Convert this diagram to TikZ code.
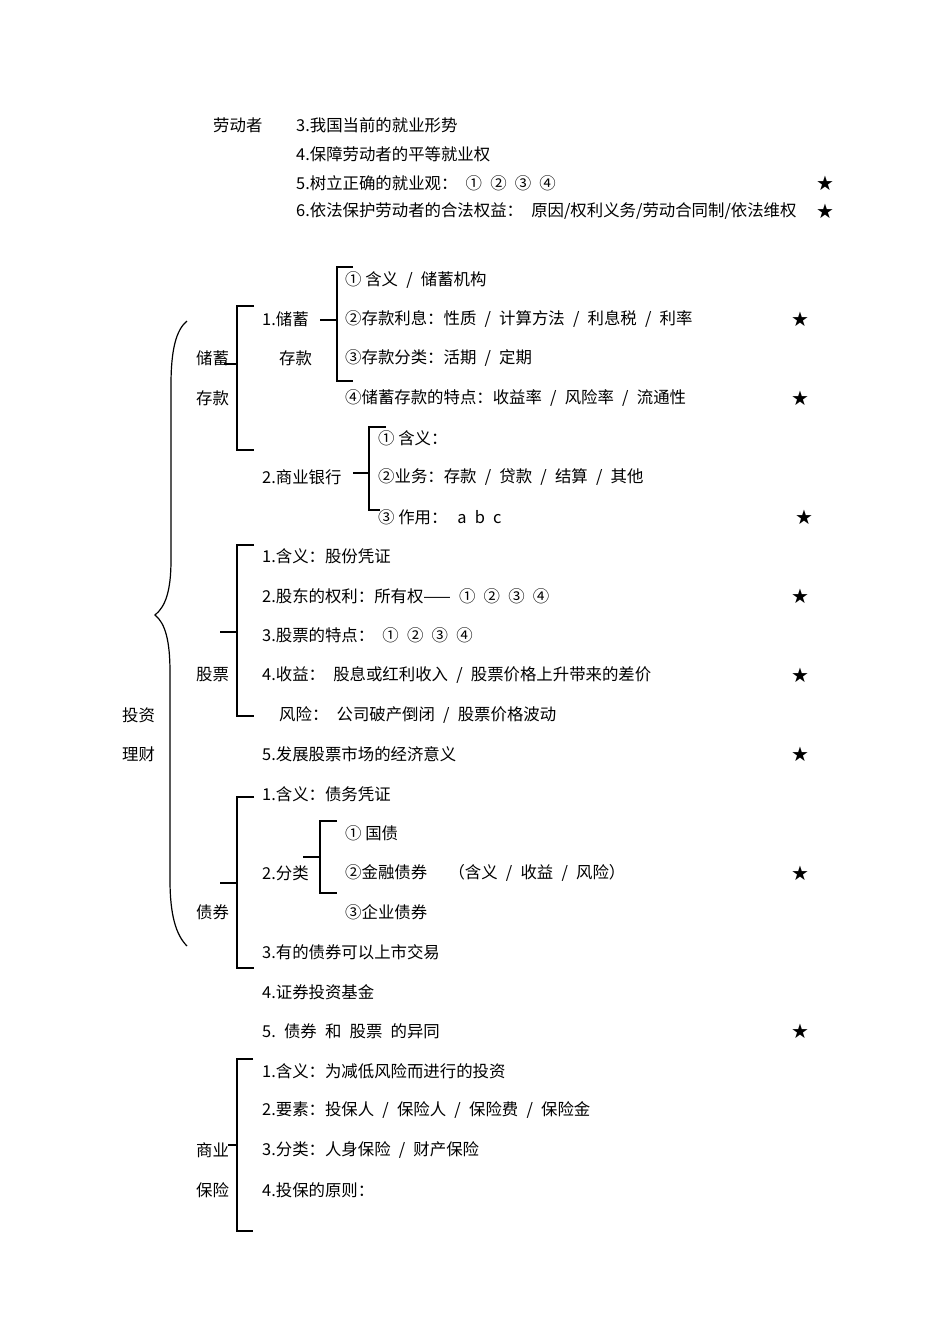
\documentclass[tikz,border=0pt]{standalone}
\usepackage{fontspec}
\newfontfamily\cjk{Noto Sans CJK SC}
\newfontfamily\sym{DejaVu Sans}
\usetikzlibrary{positioning}
\newcommand\slsep{\hspace{0.5em}/\hspace{0.5em}}
\newcommand\gap{\hspace{0.5em}}

\tikzset{
  txt/.style={anchor=west,inner sep=0pt,font=\cjk\fontsize{16.4}{18}\selectfont},
  starmark/.style={inner sep=0pt,font=\sym\fontsize{20}{22}\selectfont},
  brk/.style={line width=1.4pt},
}

\begin{document}
\begin{tikzpicture}[x=1pt,y={(0pt,-1pt)}]
  \useasboundingbox (0,0) rectangle (950,1342);
  % labour
  \node[txt] (ldz) at (213,125) {劳动者};
  \node[txt] (l3) at (296,125) {3.我国当前的就业形势};
  \node[txt] (l4) at (296,154) {4.保障劳动者的平等就业权};
  \node[txt] (l5) at (296,183) {5.树立正确的就业观：\gap ①\gap ②\gap ③\gap ④};
  \node[txt] (l6) at (296,211) {6.依法保护劳动者的合法权益：\gap 原因/权利义务/劳动合同制/依法维权};
  \node[starmark] (s5) at (825,183) {★};
  \node[starmark] (s6) at (825,211) {★};

  % big brace
  \node[txt] (tz1) at (122,715) {投资};
  \node[txt] (tz2) at (122,754) {理财};
  \draw[line width=1.2pt] (187,321) .. controls (176,330) and (171,350) .. (171,385) -- (171,560)
    .. controls (171,592) and (165,607) .. (155,615)
    .. controls (165,623) and (170,640) .. (170,672) -- (170,880)
    .. controls (170,915) and (176,935) .. (187,946);

  % savings
  \node[txt] (cx) at (196,358) {储蓄};
  \node[txt] (ck) at (196,398) {存款};
  \node[txt] (cx1) at (262,319) {1.储蓄};
  \node[txt] (cx1b) at (279,358) {存款};
  \node[txt] (cxa) at (345,280) {① 含义\slsep 储蓄机构};
  \node[txt] (cxb) at (345,319) {②存款利息：性质\slsep 计算方法\slsep 利息税\slsep 利率};
  \node[txt] (cxc) at (345,358) {③存款分类：活期\slsep 定期};
  \node[txt] (cxd) at (345,398) {④储蓄存款的特点：收益率\slsep 风险率\slsep 流通性};
  \node[txt] (yh) at (262,477) {2.商业银行};
  \node[txt] (yha) at (378,438) {① 含义：};
  \node[txt] (yhb) at (378,477) {②业务：存款\slsep 贷款\slsep 结算\slsep 其他};
  \node[txt] (yhc) at (378,517) {③ 作用：\hspace{0.6em}a\gap b\gap c};
  \coordinate (cxT) at (237,306);
  \coordinate (cxB) at (237,450);
  \draw[brk] ([xshift=17pt]cxT) -- (cxT) -- (cxB) -- ([xshift=17pt]cxB);
  \draw[brk] (224,364) -- (cxT |- 0,364);
  \coordinate (cx1T) at (337,267);
  \coordinate (cx1B) at (337,381);
  \draw[brk] (320,320) -- (cx1T |- 0,320);
  \draw[brk] ([xshift=16pt]cx1T) -- (cx1T) -- (cx1B) -- ([xshift=16pt]cx1B);
  \coordinate (yhT) at (369,427);
  \coordinate (yhB) at (369,510);
  \draw[brk] (353,473) -- (yhT |- 0,473);
  \draw[brk] ([xshift=17pt]yhT) -- (yhT) -- (yhB) -- ([xshift=11pt]yhB);

  % stocks
  \node[txt] (gp) at (196,675) {股票};
  \node[txt] (gp1) at (262,556) {1.含义：股份凭证};
  \node[txt] (gp2) at (262,596) {2.股东的权利：所有权——\gap ①\gap ②\gap ③\gap ④};
  \node[txt] (gp3) at (262,635) {3.股票的特点：\gap ①\gap ②\gap ③\gap ④};
  \node[txt] (gp4) at (262,675) {4.收益：\gap 股息或红利收入\slsep 股票价格上升带来的差价};
  \node[txt] (gp4b) at (279,715) {风险：\gap 公司破产倒闭\slsep 股票价格波动};
  \node[txt] (gp5) at (262,754) {5.发展股票市场的经济意义};
  \coordinate (gpT) at (237,545);
  \coordinate (gpB) at (237,716);
  \draw[brk] ([xshift=17pt]gpT) -- (gpT) -- (gpB) -- ([xshift=17pt]gpB);
  \draw[brk] (220,632) -- (gpT |- 0,632);

  % bonds
  \node[txt] (zq) at (196,912) {债券};
  \node[txt] (zq1) at (262,794) {1.含义：债务凭证};
  \node[txt] (zq2) at (262,873) {2.分类};
  \node[txt] (zqa) at (345,833) {① 国债};
  \node[txt] (zqb) at (345,873) {②金融债券\hspace{1.3em}（含义\slsep 收益\slsep 风险）};
  \node[txt] (zqc) at (345,912) {③企业债券};
  \node[txt] (zq3) at (262,952) {3.有的债券可以上市交易};
  \node[txt] (jj) at (262,992) {4.证券投资基金};
  \node[txt] (yt) at (262,1031) {5.\gap 债券\gap 和\gap 股票\gap 的异同};
  \coordinate (zqT) at (237,797);
  \coordinate (zqB) at (237,968);
  \draw[brk] ([xshift=17pt]zqT) -- (zqT) -- (zqB) -- ([xshift=17pt]zqB);
  \draw[brk] (220,883) -- (zqT |- 0,883);
  \coordinate (flT) at (320,821);
  \coordinate (flB) at (320,893);
  \draw[brk] (303,857) -- (flT |- 0,857);
  \draw[brk] ([xshift=17pt]flT) -- (flT) -- (flB) -- ([xshift=17pt]flB);

  % insurance
  \node[txt] (bx1) at (196,1150) {商业};
  \node[txt] (bx2) at (196,1190) {保险};
  \node[txt] (bxa) at (262,1071) {1.含义：为减低风险而进行的投资};
  \node[txt] (bxb) at (262,1110) {2.要素：投保人\slsep 保险人\slsep 保险费\slsep 保险金};
  \node[txt] (bxc) at (262,1150) {3.分类：人身保险\slsep 财产保险};
  \node[txt] (bxd) at (262,1190) {4.投保的原则：};
  \coordinate (bxT) at (237,1059);
  \coordinate (bxB) at (237,1231);
  \draw[brk] ([xshift=16pt]bxT) -- (bxT) -- (bxB) -- ([xshift=16pt]bxB);
  \draw[brk] (228,1145) -- (bxT |- 0,1145);

  % stars
  \foreach \y in {319,398,596,675,754,873,1031}
    \node[starmark] (st\y) at (800,\y) {★};
  \node[starmark] (st517) at (804,517) {★};
\end{tikzpicture}
\end{document}
